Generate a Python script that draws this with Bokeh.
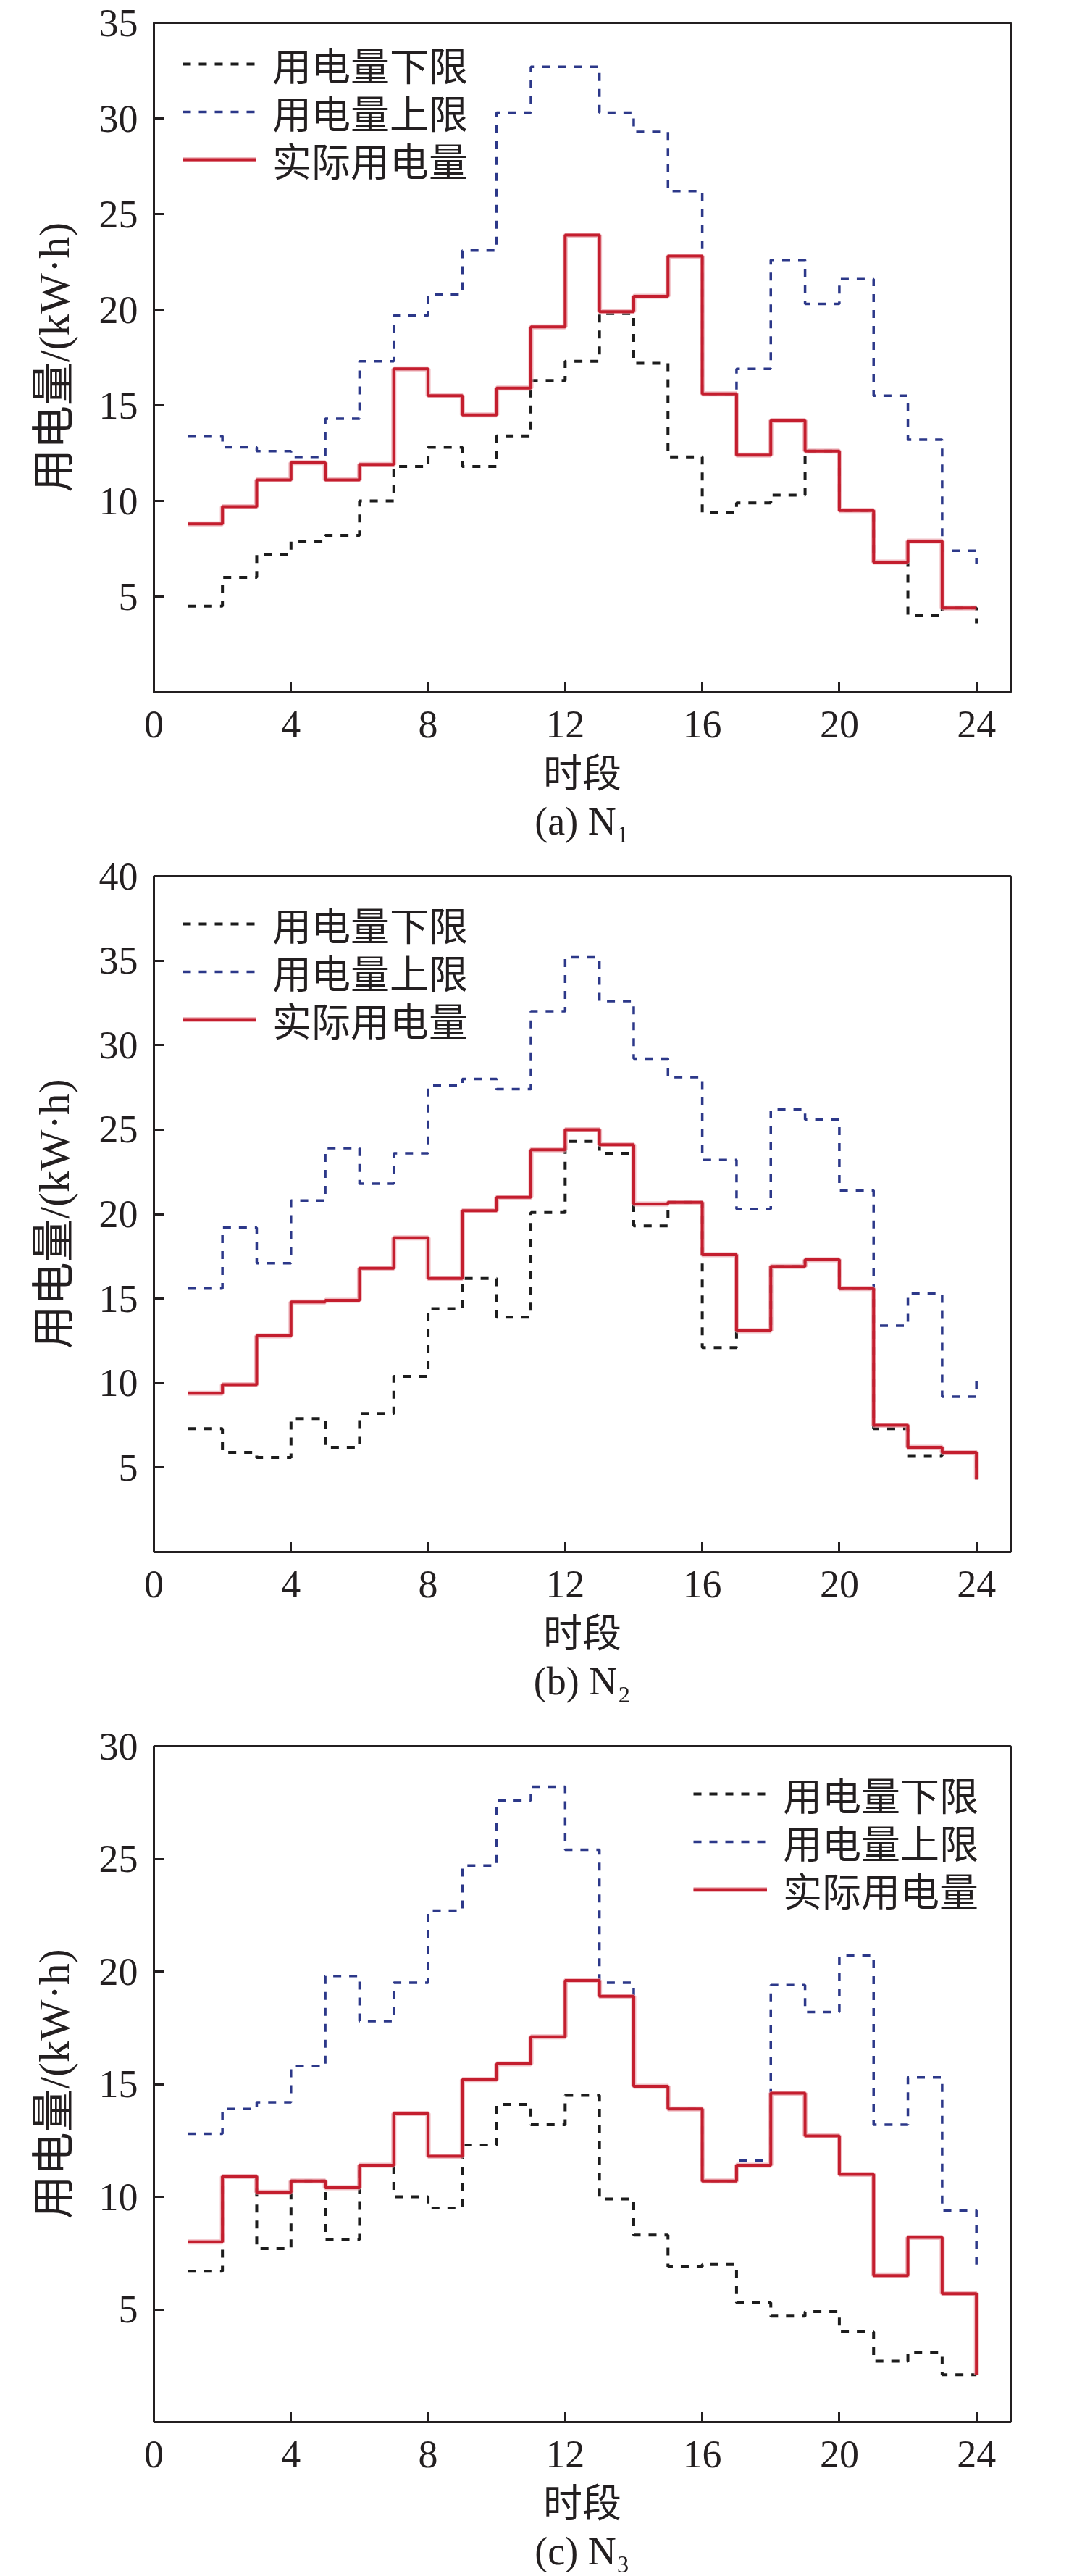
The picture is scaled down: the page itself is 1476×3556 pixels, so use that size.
from bokeh.plotting import figure
from bokeh.models import Range1d, FixedTicker, Legend, LegendItem, Title
from bokeh.layouts import column
from bokeh.embed import file_html
from bokeh.resources import INLINE

# ---------------- data ----------------
hours = list(range(1, 25))
x_ticks = [0, 4, 8, 12, 16, 20, 24]
legend_labels = ["用电量下限", "用电量上限", "实际用电量"]
x_title = "时段"
y_title = "用电量/(kW·h)"
captions = ["(a) N₁", "(b) N₂", "(c) N₃"]

lower_a = [4.5, 6.0, 7.2, 7.9, 8.2, 10.0, 11.8, 12.8, 11.8, 13.4, 16.3, 17.3,
           19.8, 17.2, 12.3, 9.4, 9.9, 10.3, 12.6, 9.5, 6.8, 4.0, 4.4, 3.6]
upper_a = [13.4, 12.8, 12.6, 12.3, 14.3, 17.3, 19.7, 20.8, 23.1, 30.3, 32.7, 32.7,
           30.3, 29.3, 26.2, 15.6, 16.9, 22.6, 20.3, 21.6, 15.5, 13.2, 7.4, 6.7]
actual_a = [8.8, 9.7, 11.1, 12.0, 11.1, 11.9, 16.9, 15.5, 14.5, 15.9, 19.1, 23.9,
            19.9, 20.7, 22.8, 15.6, 12.4, 14.2, 12.6, 9.5, 6.8, 7.9, 4.4, 4.4]

lower_b = [7.3, 5.9, 5.6, 7.9, 6.2, 8.2, 10.4, 14.4, 16.2, 13.9, 20.1, 24.3,
           23.6, 19.3, 20.7, 12.1, 13.1, 16.9, 17.3, 15.6, 7.3, 5.7, 5.9, 4.3]
upper_b = [15.6, 19.2, 17.1, 20.8, 23.9, 21.8, 23.6, 27.6, 28.0, 27.4, 32.0, 35.2,
           32.6, 29.2, 28.1, 23.2, 20.3, 26.2, 25.6, 21.4, 13.4, 15.3, 9.2, 10.2]
actual_b = [9.4, 9.9, 12.8, 14.8, 14.9, 16.8, 18.6, 16.2, 20.2, 21.0, 23.8, 25.0,
            24.1, 20.6, 20.7, 17.6, 13.1, 16.9, 17.3, 15.6, 7.5, 6.2, 5.9, 4.3]

lower_c = [6.7, 10.9, 7.7, 10.7, 8.1, 11.4, 10.0, 9.5, 12.3, 14.1, 13.2, 14.5,
           9.9, 8.3, 6.9, 7.0, 5.3, 4.7, 4.9, 4.0, 2.7, 3.1, 2.1, 2.1]
upper_c = [12.8, 13.9, 14.2, 15.8, 19.8, 17.8, 19.5, 22.7, 24.7, 27.6, 28.2, 25.4,
           19.5, 14.9, 13.9, 10.7, 11.6, 19.4, 18.2, 20.7, 13.2, 15.3, 9.4, 7.0]
actual_c = [8.0, 10.9, 10.2, 10.7, 10.4, 11.4, 13.7, 11.8, 15.2, 15.9, 17.1, 19.6,
            18.9, 14.9, 13.9, 10.7, 11.4, 14.6, 12.7, 11.0, 6.5, 8.2, 5.7, 2.1]

y_max = [35, 40, 30]
y_ticks = [[5, 10, 15, 20, 25, 30, 35],
           [5, 10, 15, 20, 25, 30, 35, 40],
           [5, 10, 15, 20, 25, 30]]

# ---------------- layout / style ----------------
frame_heights = [924, 933, 933]
top_borders = [31, 31, 31]
bottom_borders = [223, 237, 190]
legend_x = [40, 40, 745]
legend_row_y = [822, 756, 690]

FONT = "Liberation Serif, Noto Sans CJK SC"
TXT = "#231f20"
BLACK = "#1c1c1c"
BLUE = "#2c3889"
RED = "#c41e2e"
HALO = "#eaa3ab"


def panel(lower, upper, actual, ymax, yt, lx, caption, fh, bt, bb):
    p = figure(frame_width=1183, frame_height=fh,
               x_range=Range1d(0, 25), y_range=Range1d(0, ymax),
               output_backend="svg", toolbar_location=None,
               min_border_left=212, min_border_right=57,
               min_border_top=bt, min_border_bottom=bb,
               background_fill_color="white", border_fill_color="white")
    p.grid.visible = False
    p.outline_line_color = TXT
    p.outline_line_width = 3

    for ax in (p.xaxis[0], p.yaxis[0]):
        ax.axis_line_color = TXT
        ax.axis_line_width = 3
        ax.major_tick_line_color = TXT
        ax.major_tick_line_width = 3
        ax.major_tick_in = 14
        ax.major_tick_out = 0
        ax.minor_tick_line_color = None
        ax.major_label_text_font = FONT
        ax.major_label_text_font_size = "54px"
        ax.major_label_text_color = TXT
        ax.axis_label_text_font = FONT
        ax.axis_label_text_font_size = "54px"
        ax.axis_label_text_font_style = "normal"
        ax.axis_label_text_color = TXT

    p.xaxis[0].ticker = FixedTicker(ticks=x_ticks)
    p.yaxis[0].ticker = FixedTicker(ticks=yt)
    p.xaxis[0].axis_label = x_title
    p.yaxis[0].axis_label = y_title
    p.yaxis[0].axis_label_text_font_size = "60px"
    p.xaxis[0].major_label_standoff = 26
    p.xaxis[0].axis_label_standoff = 18
    p.yaxis[0].major_label_standoff = 22
    p.yaxis[0].axis_label_standoff = 26

    r_low = p.step(hours, lower, mode="after", line_color=BLACK,
                   line_width=4, line_dash="11 11")
    r_up = p.step(hours, upper, mode="after", line_color=BLUE,
                  line_width=3.5, line_dash="11 11")
    r_halo = p.step(hours, actual, mode="after", line_color=HALO,
                    line_width=7, line_alpha=0.7)
    r_act = p.step(hours, actual, mode="after", line_color=RED,
                   line_width=4)

    rows = [[r_low], [r_up], [r_halo, r_act]]
    for label, rends, vy in zip(legend_labels, rows, legend_row_y):
        leg = Legend(items=[LegendItem(label=label, renderers=rends)],
                     location=(lx, vy), glyph_width=102, glyph_height=90,
                     label_height=90, label_standoff=22, spacing=0,
                     padding=0, margin=0,
                     background_fill_alpha=0, border_line_alpha=0,
                     label_text_font=FONT, label_text_font_size="54px",
                     label_text_color=TXT)
        p.add_layout(leg)

    p.add_layout(Title(text=caption, align="center", text_font=FONT,
                       text_font_size="54px", text_font_style="normal",
                       text_color=TXT, standoff=0), "below")
    return p


pa = panel(lower_a, upper_a, actual_a, y_max[0], y_ticks[0], legend_x[0],
           captions[0], frame_heights[0], top_borders[0], bottom_borders[0])
pb = panel(lower_b, upper_b, actual_b, y_max[1], y_ticks[1], legend_x[1],
           captions[1], frame_heights[1], top_borders[1], bottom_borders[1])
pc = panel(lower_c, upper_c, actual_c, y_max[2], y_ticks[2], legend_x[2],
           captions[2], frame_heights[2], top_borders[2], bottom_borders[2])

layout = column(pa, pb, pc, spacing=0)
open("out.html", "w").write(file_html(layout, INLINE))
